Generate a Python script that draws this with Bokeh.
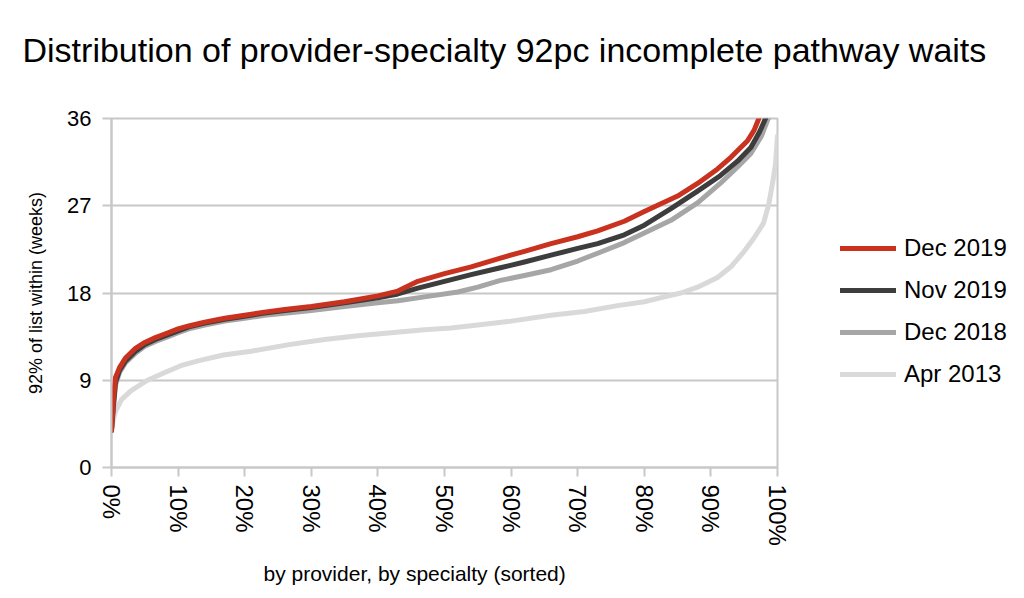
import math
from bokeh.plotting import figure
from bokeh.models import Range1d, FixedTicker, Legend, LegendItem, Title
from bokeh.embed import file_html
from bokeh.resources import INLINE

TITLE = "Distribution of provider-specialty 92pc incomplete pathway waits"
X_LABEL = "by provider, by specialty (sorted)"
Y_LABEL = "92% of list within (weeks)"

x_ticks = [0, 10, 20, 30, 40, 50, 60, 70, 80, 90, 100]
x_tick_labels = ["0%", "10%", "20%", "30%", "40%", "50%", "60%", "70%", "80%", "90%", "100%"]
y_ticks = [0, 9, 18, 27, 36]

series_names = ["Dec 2019", "Nov 2019", "Dec 2018", "Apr 2013"]

dec2019_x = [0, 0.3, 0.6, 1.2, 2.1, 3.6, 5.0, 6.6, 8.5, 10, 11.6, 14, 17, 20, 22.7, 26, 30, 35, 40, 43,
             46, 50, 54, 58.4, 62, 66, 70, 73, 77, 80, 82.5, 85, 88, 91, 93, 95.5, 96.5, 97.2]
dec2019_y = [3.8, 7.0, 9.3, 10.3, 11.3, 12.3, 12.9, 13.4, 13.9, 14.3, 14.6, 15.0, 15.4, 15.7, 16.0, 16.3, 16.6, 17.1, 17.7, 18.2,
             19.2, 20.0, 20.7, 21.6, 22.3, 23.1, 23.8, 24.4, 25.4, 26.4, 27.2, 28.0, 29.3, 30.8, 32.0, 33.7, 34.8, 36.0]

nov2019_x = [0, 0.3, 0.6, 1.2, 2.1, 3.6, 5.0, 6.6, 8.5, 10, 11.6, 14, 17, 20, 22.7, 26, 30, 35, 40, 43,
             46, 50, 54, 58.4, 62, 66, 70, 73, 77, 80, 84, 88, 91.4, 94, 96, 97.3, 98.2]
nov2019_y = [3.8, 6.5, 8.8, 10.0, 11.0, 12.0, 12.7, 13.2, 13.7, 14.1, 14.5, 14.9, 15.3, 15.6, 15.9, 16.2, 16.5, 17.0, 17.5, 17.9,
             18.5, 19.2, 19.9, 20.6, 21.2, 21.9, 22.6, 23.1, 24.0, 25.0, 26.7, 28.5, 30.1, 31.6, 33.0, 34.6, 36.0]

dec2018_x = [0, 0.3, 0.6, 1.2, 2.1, 3.6, 5.0, 6.6, 8.5, 10, 11.6, 14, 17, 20, 23, 26, 30, 35, 40, 43,
             47, 52, 55, 58.4, 62, 66, 70, 73, 77, 80, 84, 88, 91.4, 94, 96, 97.6, 98.6]
dec2018_y = [3.8, 6.2, 8.5, 9.8, 10.8, 11.8, 12.5, 13.0, 13.5, 13.9, 14.3, 14.7, 15.1, 15.4, 15.7, 15.9, 16.2, 16.6, 17.0, 17.2,
             17.6, 18.1, 18.6, 19.3, 19.8, 20.4, 21.3, 22.1, 23.2, 24.2, 25.5, 27.3, 29.3, 31.0, 32.4, 34.2, 36.0]

apr2013_x = [0, 0.3, 0.6, 1.5, 2.9, 5.4, 8, 10.4, 13, 16.8, 21, 26.9, 32, 37, 42, 47, 51, 55, 60, 66, 71,
             76, 80, 83, 85.5, 88, 91, 93, 95, 96.5, 97.9, 98.7, 99.3, 99.7, 100]
apr2013_y = [4.0, 5.0, 5.8, 7.0, 7.9, 9.0, 9.8, 10.5, 11.0, 11.6, 12.0, 12.7, 13.2, 13.6, 13.9, 14.2, 14.4, 14.7, 15.1, 15.7, 16.1,
             16.7, 17.1, 17.6, 18.0, 18.6, 19.6, 20.7, 22.3, 23.7, 25.2, 27.2, 29.5, 31.3, 34.2]

colors = ["#c8321f", "#3d3d3d", "#a6a6a6", "#d9d9d9"]

FONT = "Liberation Sans"

p = figure(width=1008, height=582, output_backend="svg", toolbar_location=None,
           x_range=Range1d(0, 100), y_range=Range1d(0, 36),
           frame_width=666, frame_height=349,
           min_border_left=111, min_border_top=118, min_border_right=231, min_border_bottom=100)

p.background_fill_color = "white"
p.border_fill_color = "white"
p.outline_line_color = "#c8c8c8"
p.outline_line_width = 2

p.xgrid.visible = False
p.ygrid.grid_line_color = "#c8c8c8"
p.ygrid.grid_line_width = 2
p.ygrid.ticker = FixedTicker(ticks=y_ticks)

p.xaxis.ticker = FixedTicker(ticks=x_ticks)
p.xaxis.major_label_overrides = {t: l for t, l in zip(x_ticks, x_tick_labels)}
p.xaxis.major_label_orientation = -math.pi / 2
p.yaxis.ticker = FixedTicker(ticks=y_ticks)

for ax in (p.xaxis, p.yaxis):
    ax.axis_line_color = "#c8c8c8"
    ax.axis_line_width = 2
    ax.major_tick_line_color = "#c8c8c8"
    ax.major_tick_line_width = 2
    ax.major_tick_out = 9
    ax.major_tick_in = 0
    ax.minor_tick_line_color = None
    ax.major_label_text_font = FONT
    ax.major_label_text_color = "black"
    ax.axis_label_text_font = FONT
    ax.axis_label_text_font_style = "normal"
    ax.axis_label_text_color = "black"

p.xaxis.major_label_text_font_size = "24px"
p.yaxis.major_label_text_font_size = "22px"
p.xaxis.major_label_standoff = 8
p.yaxis.major_label_standoff = 11
p.yaxis.axis_label = Y_LABEL
p.yaxis.axis_label_text_font_size = "18px"
p.yaxis.axis_label_standoff = 18

# spacer between plot frame and the main title (closest to the frame)
spacer = Title(text=" ", text_font_size="10px", standoff=15, text_color="white")
p.add_layout(spacer, "above")
main_title = Title(text=TITLE, align="left", offset=-89, standoff=44,
                   text_font=FONT, text_font_size="34px", text_font_style="normal", text_color="black")
p.add_layout(main_title, "above")

xlab = Title(text=X_LABEL, align="left", offset=152, standoff=22,
             text_font=FONT, text_font_size="21px", text_font_style="normal", text_color="black")
p.add_layout(xlab, "below")

xs = [dec2019_x, nov2019_x, dec2018_x, apr2013_x]
ys = [dec2019_y, nov2019_y, dec2018_y, apr2013_y]

renderers = []
for i in reversed(range(4)):
    r = p.line(xs[i], ys[i], line_color=colors[i], line_width=5, line_join="round", line_cap="round")
    renderers.append((series_names[i], r))
renderers = renderers[::-1]

legend = Legend(items=[LegendItem(label=n, renderers=[r]) for n, r in renderers],
                location=(63, 79))
legend.border_line_color = None
legend.background_fill_alpha = 0
legend.label_text_font = FONT
legend.label_text_font_size = "24px"
legend.label_text_color = "black"
legend.glyph_width = 56
legend.glyph_height = 20
legend.label_height = 20
legend.spacing = 14
legend.padding = 0
legend.margin = 0
legend.label_standoff = 8
p.add_layout(legend, "right")

open("out.html", "w").write(file_html(p, INLINE))
